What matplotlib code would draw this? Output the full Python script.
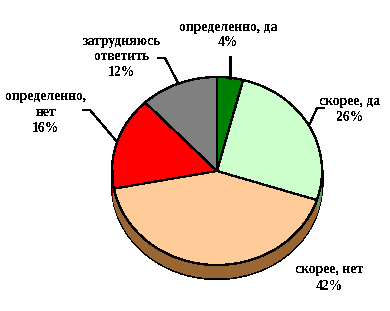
import numpy as np
import matplotlib
matplotlib.use("Agg")
import matplotlib.pyplot as plt

# Survey answers, clockwise from 12 o'clock
labels = ["определенно, да", "скорее, да", "скорее, нет", "определенно,\nнет", "затрудняюсь\nответить"]
shares = [4, 26, 42, 16, 12]
top_colors = ["#008000", "#CCFFCC", "#FFCC99", "#FF0000", "#808080"]
side_colors = ["#004000", "#669966", "#996633", "#800000", "#404040"]

# label text centres (pixels from top-left) and whether a leader line is drawn
label_pos = [(228, 35), (350, 109), (329, 278), (46, 112), (122, 57)]
leader_knee = [None, (317, 108), None, (90, 110), (165, 58)]

W, H = 390, 311
cx, cy, rx, ry, depth = 217, 171, 105, 94, 14

plt.rcParams["text.antialiased"] = False
fig = plt.figure(figsize=(W / 100, H / 100), dpi=100)
ax = fig.add_axes([0, 0, 1, 1])


def px(x, y):
    return (x - cx) / rx, (cy - y) / ry


pie_kw = dict(startangle=90, counterclock=False, radius=1)

# side of the tilted disc: stacked layers, bottom one outlined
for k in range(depth, 0, -1):
    ax.pie(shares, colors=side_colors, center=(0, -k / ry),
           wedgeprops=dict(linewidth=1.0 if k == depth else 0,
                           edgecolor="black", antialiased=False), **pie_kw)
for sx in (-1, 1):
    ax.plot([sx, sx], [0, -depth / ry], color="black", lw=1.0, antialiased=False)

wedges, _ = ax.pie(shares, colors=top_colors, center=(0, 0),
                   wedgeprops=dict(linewidth=0.9, edgecolor="black", antialiased=False),
                   **pie_kw)

for w, lab, val, pos, knee in zip(wedges, labels, shares, label_pos, leader_knee):
    tx, ty = px(*pos)
    ax.text(tx, ty, f"{lab}\n{val}%", ha="center", va="center",
            family="Liberation Serif", fontweight="bold", fontsize=9.8,
            linespacing=1.3, color="black")
    mid = np.deg2rad((w.theta1 + w.theta2) / 2)
    ex, ey = np.cos(mid), np.sin(mid)
    if val == 4:
        ax.plot([ex, ex], [px(0, 57)[1], ey], color="black", lw=0.8, antialiased=False)
    elif knee is not None:
        kx, ky = px(*knee)
        hx = kx + (7 / rx if ex > 0 else -7 / rx)
        ax.plot([hx, kx, ex], [ky, ky, ey], color="black", lw=0.8, antialiased=False)

ax.set_aspect("auto")
ax.set_xlim(-cx / rx, (W - cx) / rx)
ax.set_ylim(-(H - cy) / ry, cy / ry)
ax.axis("off")
fig.savefig("out.png", dpi=100, facecolor="white")
